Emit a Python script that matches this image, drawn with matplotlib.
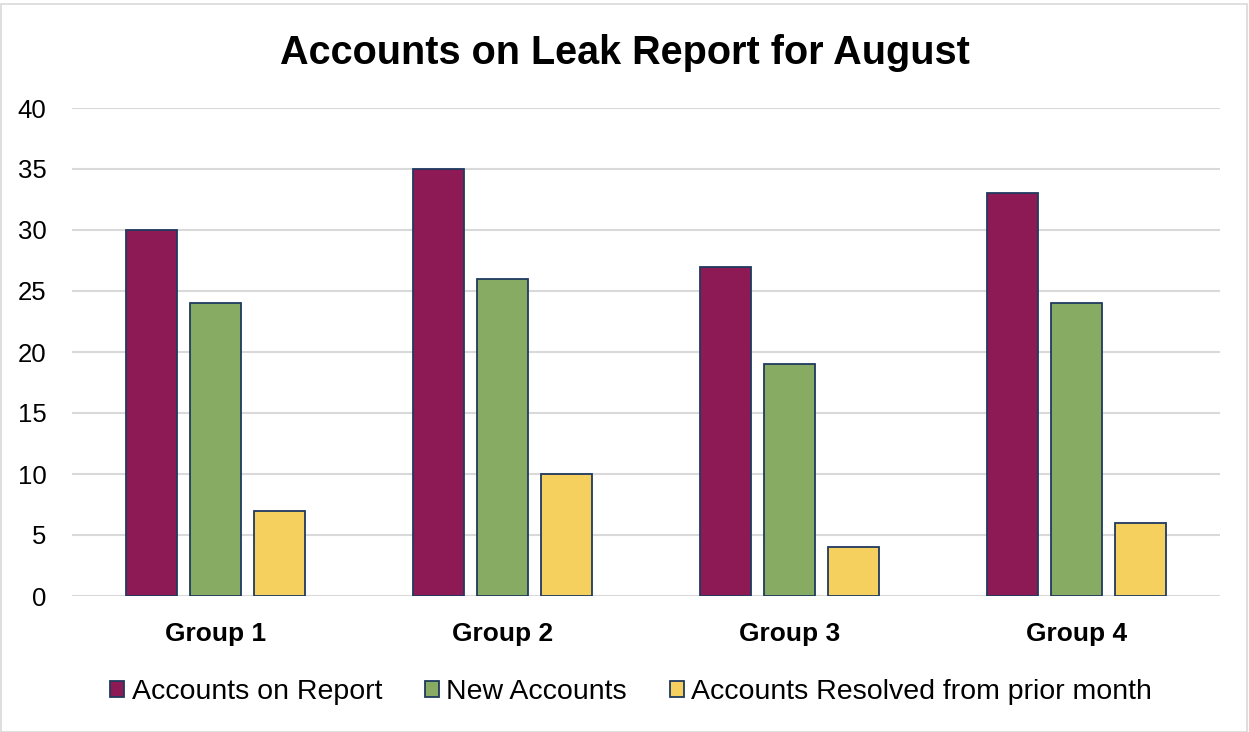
import matplotlib
matplotlib.use("Agg")
import matplotlib.pyplot as plt
import numpy as np
from matplotlib.patches import Rectangle

groups = ["Group 1", "Group 2", "Group 3", "Group 4"]
series_names = ["Accounts on Report", "New Accounts", "Accounts Resolved from prior month"]
accounts_on_report = [30, 35, 27, 33]
new_accounts = [24, 26, 19, 24]
resolved_prior = [7, 10, 4, 6]
yticks = [0, 5, 10, 15, 20, 25, 30, 35, 40]

colors = ["#8E1A55", "#87AB62", "#F6D05E"]
edge = "#1F3A5F"

plt.rcParams['font.family'] = ['Liberation Sans', 'DejaVu Sans']

fig = plt.figure(figsize=(12.49, 7.32), dpi=100)
ax = fig.add_axes([72/1249, 136/732, 1148/1249, 488/732])

x = np.arange(len(groups))
bw = 0.178
step = 0.223
data = [accounts_on_report, new_accounts, resolved_prior]
for i, (vals, name, c) in enumerate(zip(data, series_names, colors)):
    ax.bar(x + (i - 1) * step, vals, width=bw, color=c, edgecolor=edge,
           linewidth=1.3, label=name, zorder=3)

ax.set_xlim(-0.5, 3.5)
ax.set_ylim(0, 40)
ax.set_yticks(yticks)
ax.set_yticklabels([str(t) for t in yticks], fontsize=18.5, color="#000000")
ax.set_xticks(x)
ax.set_xticklabels(groups, fontsize=19, fontweight="bold")
ax.tick_params(axis="both", length=0)
ax.tick_params(axis="y", pad=18.5)
ax.tick_params(axis="x", pad=19)
ax.grid(axis="y", color="#D9D9D9", linewidth=1.5, zorder=0)
for s in ax.spines.values():
    s.set_visible(False)

fig.text(625/1249, 1 - 53/732, "Accounts on Leak Report for August",
         ha="center", va="center", fontsize=28.5, fontweight="bold")

leg = fig.legend(loc="center", bbox_to_anchor=(631/1249, 1 - 692/732), ncol=3,
                 frameon=False, fontsize=20.5, handlelength=0.5, handleheight=0.5,
                 handletextpad=0.25, columnspacing=1.5)

fig.patches.append(Rectangle((1/1249, 0), 1246/1249, 1 - 3.5/732,
                             transform=fig.transFigure, fill=False,
                             edgecolor="#D9D9D9", linewidth=1.2))

fig.savefig("out.png", dpi=100)
